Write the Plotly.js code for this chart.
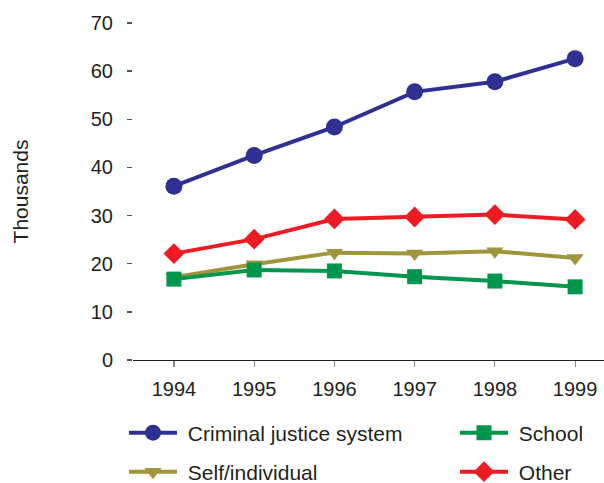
<!DOCTYPE html>
<html><head><meta charset="utf-8">
<script src="https://cdn.plot.ly/plotly-3.0.1.min.js"></script>
<style>html,body{margin:0;padding:0;background:#fff}#chart{width:604px;height:483px}</style>
</head><body><div id="chart"></div>
<script>
const years = [1994, 1995, 1996, 1997, 1998, 1999];
const criminalJustice = [36.1, 42.5, 48.4, 55.7, 57.8, 62.6];
const other = [22.1, 25.1, 29.3, 29.7, 30.2, 29.2];
const selfIndividual = [17.2, 19.9, 22.3, 22.1, 22.6, 21.2];
const school = [16.8, 18.7, 18.5, 17.3, 16.4, 15.2];
const yTicks = [0, 10, 20, 30, 40, 50, 60, 70];

const font = 'Liberation Sans, Arial, sans-serif';
const txt = '#231f20';
function tr(name, y, color, symbol, size, legend) {
  return {x: years, y: y, name: '\u00a0' + name, type: 'scatter', mode: 'lines+markers',
    line: {color: color, width: 4}, marker: {color: color, symbol: symbol, size: size},
    legend: legend};
}
const data = [
  tr('Criminal justice system', criminalJustice, '#2e3192', 'circle', 17, 'legend'),
  tr('Other', other, '#ed1c24', 'diamond', 16, 'legend4'),
  tr('Self/individual', selfIndividual, '#a0953a', 'triangle-down', 15, 'legend3'),
  tr('School', school, '#00964b', 'square', 15, 'legend2')
];
const plotL = 133, plotW = 471, plotT = 23, plotH = 337;
function leg(px, py) {
  return {orientation: 'v', xref: 'paper', yref: 'paper', xanchor: 'left', yanchor: 'middle',
    x: (px - plotL) / plotW, y: -(py - (plotT + plotH)) / plotH,
    font: {family: font, size: 21, color: txt}, itemwidth: 48,
    bgcolor: 'rgba(0,0,0,0)', borderwidth: 0};
}
const layout = {
  width: 604, height: 483,
  margin: {l: plotL, r: 604 - plotL - plotW, t: plotT, b: 483 - plotT - plotH, autoexpand: false},
  paper_bgcolor: '#fff', plot_bgcolor: '#fff',
  showlegend: true,
  font: {family: font, size: 20, color: txt},
  xaxis: {range: [1993.49, 1999.36], tickvals: years, ticktext: years.map(String),
    showgrid: false, zeroline: false, showline: true, linecolor: txt, linewidth: 1.2,
    ticks: 'outside', ticklen: 6, tickcolor: '#888', tickwidth: 1.2, ticklabelstandoff: 5,
    tickfont: {family: font, size: 20, color: txt}},
  yaxis: {range: [0, 70], tickvals: yTicks, ticktext: yTicks.map(String),
    showgrid: false, zeroline: false, showline: false,
    ticks: 'outside', ticklen: 5, tickcolor: '#555', tickwidth: 1.3, ticklabelstandoff: 10,
    tickfont: {family: font, size: 20, color: txt},
    title: {text: 'Thousands', font: {family: font, size: 21, color: txt}, standoff: 56}},
  legend: leg(124, 433),
  legend2: leg(455, 433),
  legend3: leg(124, 472),
  legend4: leg(455, 472)
};
Plotly.newPlot('chart', data, layout, {displayModeBar: false, staticPlot: true});
</script></body></html>
